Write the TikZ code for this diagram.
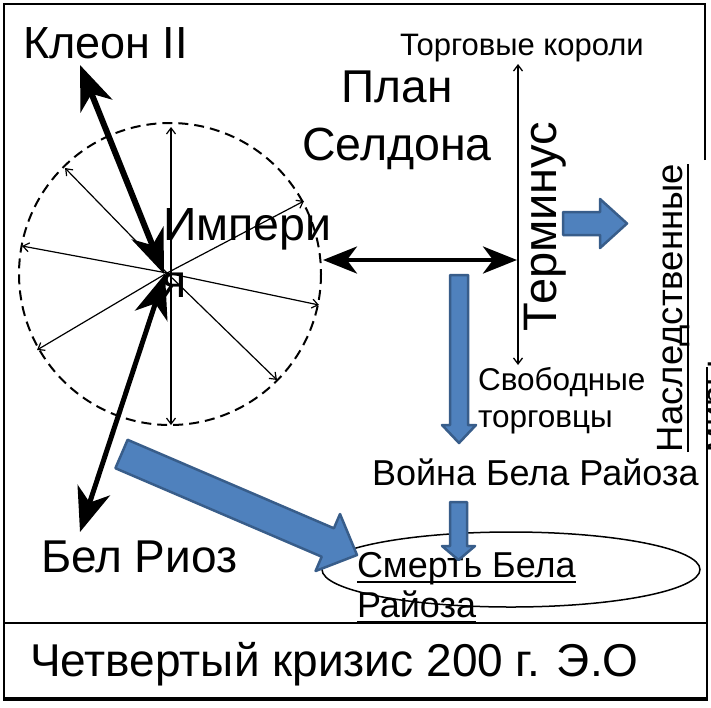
\documentclass[tikz,border=0pt]{standalone}
\usepackage{fontspec}
\setmainfont{Liberation Sans}
\usetikzlibrary{arrows.meta}
\definecolor{blockfill}{HTML}{4F81BD}
\definecolor{blockdraw}{HTML}{385D8A}
\begin{document}
\begin{tikzpicture}[x=1pt,y=-1pt,
  txt/.style={inner sep=0pt, outer sep=0pt, anchor=base west},
  fs/.style={font=\fontsize{#1}{#1}\selectfont},
  thinarrow/.style={line width=1.2pt, -{Straight Barb[length=6pt,width=9pt]}},
  thindouble/.style={line width=1.3pt, {Straight Barb[length=6pt,width=9pt]}-{Straight Barb[length=6pt,width=9pt]}},
  boldarrow/.style={line width=#1, {Stealth[length=44pt,width=34pt,inset=13pt]}-{Stealth[length=44pt,width=34pt,inset=13pt]}},
  midarrow/.style={line width=4pt, {Stealth[length=34pt,width=27pt,inset=10pt]}-{Stealth[length=34pt,width=27pt,inset=10pt]}},
  block/.style={fill=blockfill, draw=blockdraw, line width=2.5pt, line join=round},
  uline/.style={line width=2.2pt}
]
\useasboundingbox (0,0) rectangle (711,707);
\fill[white] (0,0) rectangle (711,707);

% frame
\draw[line width=1.6pt] (705,160) -- (705,4) -- (4,4) -- (4,700);
\draw[line width=1.6pt] (707,367) -- (707,700);
\draw[line width=4pt] (3,699) -- (708,699);
\draw[line width=1.5pt] (4,623) -- (707,623);

% circle and rays
\coordinate (c) at (167,273);
\draw[dashed, dash pattern=on 10pt off 6pt, line width=2pt] (170,274) circle[radius=151];
\coordinate (r1) at (171,127);
\coordinate (r2) at (65,168);
\coordinate (r3) at (304,201);
\coordinate (r4) at (22,246);
\coordinate (r5) at (319,305);
\coordinate (r6) at (37,350);
\coordinate (r7) at (277,380);
\coordinate (r8) at (171,425);
\draw[thinarrow] (c) -- (r2);
\draw[thinarrow] (c) -- (r3);
\draw[thinarrow] (c) -- (r4);
\draw[thinarrow] (c) -- (r5);
\draw[thinarrow] (c) -- (r6);
\draw[thinarrow] (c) -- (r7);
\draw[thinarrow] (171,273) -- (r1);
\draw[thinarrow] (171,273) -- (r8);

% texts
\node[txt, fs=45] (kleon) at (23,58) {Клеон II};
\node[txt, fs=46, anchor=base] (plan) at (397,102) {План};
\node[txt, fs=46.5, anchor=base] (seldon) at (397,160) {Селдона};
\node[txt, fs=31] (torgk) at (400,55) {Торговые короли};
\node[txt, fs=47, rotate=90] (term) at (556,331) {Терминус};
\node[txt, fs=46.5] (imp) at (163,240) {Импери};
\node[txt, fs=46.5] (impya) at (161,297) {я};
\node[txt, fs=36.5, rotate=90] (nasl) at (682,452) {Наследственные};
\node[txt, fs=36.5, rotate=90] (mir) at (727,452) {миры};
\node[txt, fs=31.5] (svob) at (478,390) {Свободные};
\node[txt, fs=31.5] (torgv) at (478,427) {торговцы};
\node[txt, fs=36] (voina) at (372,485) {Война Бела Райоза};
\node[txt, fs=36] (smert1) at (357,577) {Смерть Бела};
\node[txt, fs=36] (smert2) at (357,617) {Райоза};
\node[txt, fs=46] (belr) at (41,572) {Бел Риоз};
\node[txt, fs=46] (crisis) at (30,676) {Четвертый кризис 200 г. Э.О};

% underlines
\draw[uline] ([xshift=6pt]nasl.base west) -- ([xshift=6pt]nasl.base east);
\draw[uline] ([xshift=6pt]mir.base west) -- ([xshift=6pt]mir.base east);
\draw[uline] ([yshift=-5pt]smert1.base west) -- ([yshift=-5pt]smert1.base east);
\draw[uline] ([yshift=-5pt]smert2.base west) -- ([yshift=-5pt]smert2.base east);

% ellipse
\draw[line width=1.5pt] (511,569.5) ellipse[x radius=189, y radius=37.5];

% bold arrows
\coordinate (ktip) at (80,65);
\coordinate (btip) at (80,532);
\coordinate (kc) at (164,274);
\coordinate (bc) at (165,274);
\draw[boldarrow=6pt] (kc) -- (ktip);
\draw[boldarrow=5pt] (bc) -- (btip);

% Seldon <-> Terminus
\coordinate (hl) at (323,260);
\coordinate (hr) at (517,260);
\draw[midarrow] (hl) -- (hr);

% Torgovye koroli <-> Svobodnye torgovtsy
\coordinate (vt) at (518,64);
\coordinate (vb) at (518,365);
\draw[thindouble] (vt) -- (vb);

% block arrows
\draw[block] (563,212) -- (600,212) -- (600,199) -- (627,223.5) -- (600,248) -- (600,235) -- (563,235) -- cycle;
\draw[block] (450,275) -- (468,275) -- (468,425) -- (476,425) -- (459,443) -- (442,425) -- (450,425) -- cycle;
\draw[block] (450,502) -- (467,502) -- (467,546) -- (475,546) -- (458.5,560) -- (442,546) -- (450,546) -- cycle;
\draw[block] (127.6,439.8) -- (333.9,528.3) -- (340.0,514.0) -- (357,555) -- (315.6,571.0) -- (321.7,556.7) -- (115.4,468.2) -- cycle;
\end{tikzpicture}
\end{document}
